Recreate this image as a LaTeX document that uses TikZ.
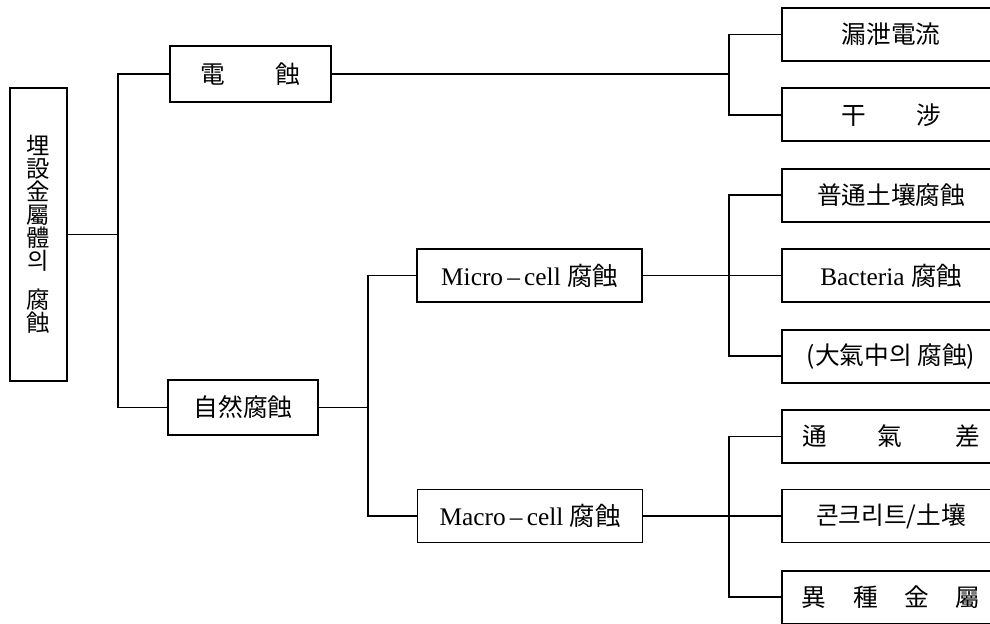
\documentclass[tikz,border=0pt]{standalone}
\usepackage{fontspec}
\setmainfont{Liberation Serif}
\newfontfamily\cjk{Noto Sans CJK KR}
\begin{document}
\begin{tikzpicture}[x=0.75pt,y=-0.75pt,
  box/.style={draw, line width=1.4pt, inner sep=0pt, fill=white},
  cjkfont/.style={font=\cjk\fontsize{18.5}{20}\selectfont},
  latfont/.style={font=\fontsize{19}{20}\selectfont},
  link/.style={line width=1.4pt},
  rbox/.style={box, minimum width=163.5pt, minimum height=39.75pt}]
\useasboundingbox (0,0) rectangle (990,624);
\clip (0,0) rectangle (990,624);
\fill[white] (0,0) rectangle (990,624);
% root
\node[box, minimum width=42.75pt, minimum height=219.75pt, align=center,
  font=\cjk\fontsize{17.5}{17.25}\selectfont] (root) at (38.5,234.5)
  {埋\\設\\金\\屬\\體\\의\\[12pt]腐\\蝕};
% level 1
\node[box, cjkfont, minimum width=120.75pt, minimum height=42pt] (elec) at (250.5,74) {電\hspace{38pt}蝕};
\node[box, cjkfont, minimum width=112.5pt, minimum height=41.25pt] (natu) at (243,407.5) {自然腐蝕};
% level 2
\node[box, latfont, minimum width=168.75pt, minimum height=39.75pt] (micro) at (529.5,275.5) {Micro\,–\,cell {\cjk 腐蝕}};
\node[box, latfont, minimum width=168.75pt, minimum height=39.75pt] (macro) at (530,516) {Macro\,–\,cell {\cjk 腐蝕}};
% right column
\node[rbox, cjkfont] (r1) at (891,34.5) {漏泄電流};
\node[rbox, cjkfont] (r2) at (891,114.9) {干\hspace{38pt}涉};
\node[rbox, cjkfont] (r3) at (891,195.3) {普通土壤腐蝕};
\node[rbox, latfont] (r4) at (891,275.5) {Bacteria {\cjk 腐蝕}};
\node[rbox, cjkfont] (r5) at (891,356.1) {(大氣中의 腐蝕)};
\node[rbox, cjkfont] (r6) at (891,436.5) {通\hspace{38pt}氣\hspace{40pt}差};
\node[rbox, cjkfont] (r7) at (891,516) {콘크리트/土壤};
\node[rbox, cjkfont] (r8) at (891,597.3) {異\hspace{20pt}種\hspace{20pt}金\hspace{20pt}屬};
% trunks
\coordinate (t1) at (118,0);
\coordinate (t2) at (368,0);
\coordinate (t3) at (729,0);
\draw[link] (root.east) -- (root.east -| t1);
\draw[link] (elec.west) -- (elec.west -| t1) |- (natu.west);
\draw[link] (natu.east) -- (natu.east -| t2);
\draw[link] (micro.west) -- (micro.west -| t2) |- (macro.west);
\draw[link] (elec.east) -- (elec.east -| t3);
\draw[link] (r1.west) -- (r1.west -| t3) |- (r2.west);
\draw[link] (micro.east) -- (r4.west);
\draw[link] (r3.west) -- (r3.west -| t3) |- (r5.west);
\draw[link] (macro.east) -- (r7.west);
\draw[link] (r6.west) -- (r6.west -| t3) |- (r8.west);
\end{tikzpicture}
\end{document}
